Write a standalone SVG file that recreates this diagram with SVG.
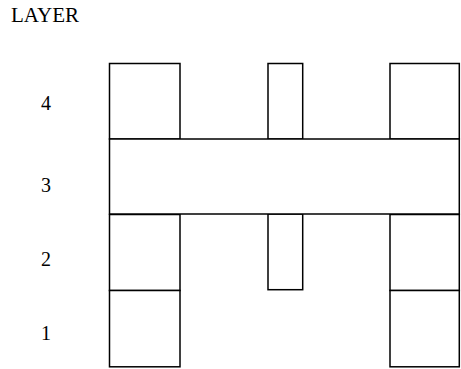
<svg xmlns="http://www.w3.org/2000/svg" width="461" height="369" viewBox="0 0 461 369">
<style>
.b{fill:#fff;stroke:#000;stroke-width:1.5}
.t{font-family:"Liberation Serif",serif;font-size:20px;fill:#000}
</style>
<rect width="461" height="369" fill="#fff"/>
<text class="t" x="11" y="22" style="font-size:21px">LAYER</text>
<text class="t" x="41" y="110">4</text>
<text class="t" x="41" y="192">3</text>
<text class="t" x="41" y="266">2</text>
<text class="t" x="41" y="340">1</text>
<g id="l4-left"><rect class="b" x="109.5" y="63.5" width="70.5" height="75.5"/></g>
<g id="l4-mid"><rect class="b" x="268" y="63.5" width="34.7" height="75.5"/></g>
<g id="l4-right"><rect class="b" x="390" y="63.5" width="69.3" height="75.5"/></g>
<g id="l2-left"><rect class="b" x="109.5" y="214.5" width="70.5" height="76"/></g>
<g id="l2-mid"><rect class="b" x="268" y="214" width="34.7" height="75.7"/></g>
<g id="l2-right"><rect class="b" x="390" y="214.5" width="69.3" height="76"/></g>
<g id="l1-left"><rect class="b" x="109.5" y="290.5" width="70.5" height="76.3"/></g>
<g id="l1-right"><rect class="b" x="390" y="290.5" width="69.3" height="76.3"/></g>
<g id="l3-bar"><rect class="b" x="109.5" y="139" width="349.8" height="75"/></g>
<g id="connectors"></g>
</svg>
